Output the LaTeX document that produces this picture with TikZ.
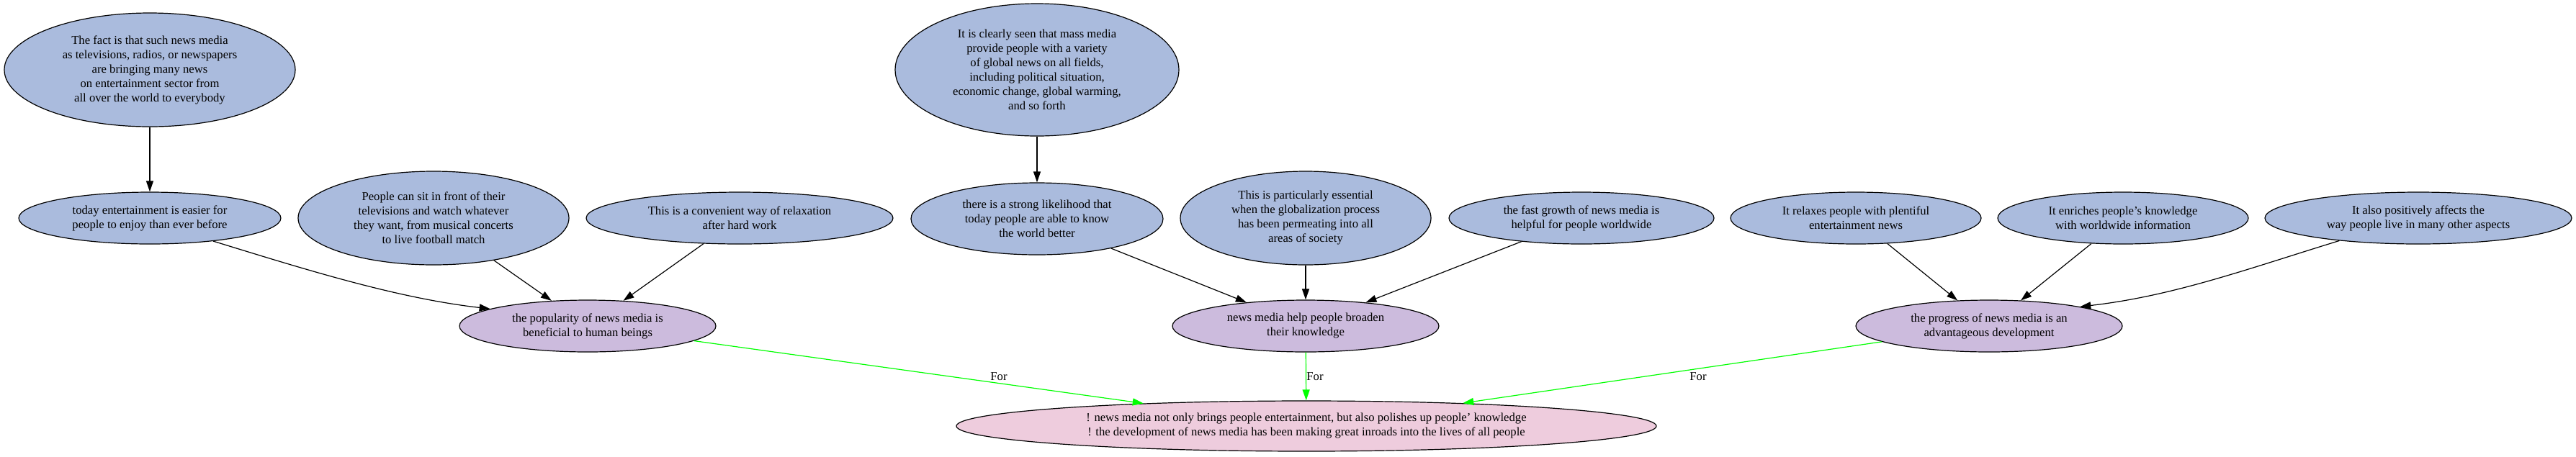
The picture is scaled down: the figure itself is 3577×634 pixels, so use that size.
\documentclass[tikz,border=0pt]{standalone}
\usepackage{fontspec}
\setmainfont{Liberation Serif}
\usetikzlibrary{shapes.geometric,arrows.meta}
\definecolor{nblue}{HTML}{AABBDD}
\definecolor{npurple}{HTML}{CCBBDD}
\definecolor{npink}{HTML}{EECCDD}
\definecolor{ngreen}{HTML}{00FF00}
\begin{document}
\begin{tikzpicture}[x=0.5pt,y=-0.5pt,
  base/.style={ellipse,draw=black,line width=0.6pt,inner sep=0pt,align=center,font=\fontsize{8.33}{10}\selectfont},
  prem/.style={base,fill=nblue},
  claim/.style={base,fill=npurple},
  concl/.style={base,fill=npink},
  arr/.style={draw=black,line width=0.6pt,-{Triangle[length=7.5pt,width=5pt]}},
  garr/.style={draw=ngreen,line width=0.6pt,-{Triangle[length=7.5pt,width=5pt]}},
  lbl/.style={font=\fontsize{8.33}{10}\selectfont,inner sep=0pt}]
\path[use as bounding box] (0,0) rectangle (3577,634);

\node[prem,minimum width=202pt,minimum height=79pt] (A1) at (208,97) {The fact is that such news media\\as televisions, radios, or newspapers\\are bringing many news\\on entertainment sector from\\all over the world to everybody};
\node[prem,minimum width=182pt,minimum height=36pt] (A2) at (208,303) {today entertainment is easier for\\people to enjoy than ever before};
\node[prem,minimum width=188pt,minimum height=65pt] (A3) at (602,303) {People can sit in front of their\\televisions and watch whatever\\they want, from musical concerts\\to live football match};
\node[prem,minimum width=213pt,minimum height=36pt] (A4) at (1027,303) {This is a convenient way of relaxation\\after hard work};
\node[claim,minimum width=178pt,minimum height=36pt] (P1) at (816,453) {the popularity of news media is\\beneficial to human beings};

\node[prem,minimum width=197pt,minimum height=92pt] (B1) at (1440,97) {It is clearly seen that mass media\\provide people with a variety\\of global news on all fields,\\including political situation,\\economic change, global warming,\\and so forth};
\node[prem,minimum width=175pt,minimum height=50pt] (B2) at (1440,304) {there is a strong likelihood that\\today people are able to know\\the world better};
\node[prem,minimum width=174pt,minimum height=65pt] (B3) at (1813,303) {This is particularly essential\\when the globalization process\\has been permeating into all\\areas of society};
\node[prem,minimum width=184pt,minimum height=36pt] (B4) at (2196,303) {the fast growth of news media is\\helpful for people worldwide};
\node[claim,minimum width=185pt,minimum height=36pt] (P2) at (1813,453) {news media help people broaden\\their knowledge};

\node[prem,minimum width=174pt,minimum height=36pt] (C1) at (2577,303) {It relaxes people with plentiful\\entertainment news};
\node[prem,minimum width=174pt,minimum height=36pt] (C2) at (2948,303) {It enriches people's knowledge\\with worldwide information};
\node[prem,minimum width=213pt,minimum height=36pt] (C3) at (3358,303) {It also positively affects the\\way people live in many other aspects};
\node[claim,minimum width=185pt,minimum height=36pt] (P3) at (2762,453) {the progress of news media is an\\advantageous development};

\node[concl,minimum width=486pt,minimum height=35pt] (C) at (1814,592) {! news media not only brings people entertainment, but also polishes up people' knowledge\\! the development of news media has been making great inroads into the lives of all people};

\draw[arr] (A1) -- (A2);
\draw[arr] (A2.-20) .. controls +(130,40) and +(-130,-15) .. (P1.170);
\draw[arr] (A3) -- (P1);
\draw[arr] (A4) -- (P1);
\draw[arr] (B1) -- (B2);
\draw[arr] (B2) -- (P2);
\draw[arr] (B3) -- (P2);
\draw[arr] (B4) -- (P2);
\draw[arr] (C1) -- (P3);
\draw[arr] (C2) -- (P3);
\draw[arr] (C3.-164) .. controls +(-130,40) and +(130,-15) .. (P3.12);
\draw[garr] (P1) -- (C);
\draw[garr] (P2) -- (C);
\draw[garr] (P3) -- (C);

\node[lbl] (L1) at (1387,523) {For};
\node[lbl] (L2) at (1826,523) {For};
\node[lbl] (L3) at (2358,523) {For};
\end{tikzpicture}
\end{document}
